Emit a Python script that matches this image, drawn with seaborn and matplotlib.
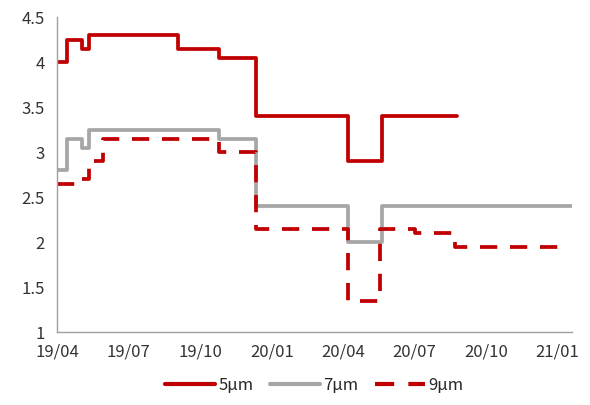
import pandas as pd
import matplotlib.pyplot as plt
import matplotlib.dates as mdates
import seaborn as sns

# step change dates and levels (value holds until the next date)
dates_5 = ["2019-04-01", "2019-04-13", "2019-05-03", "2019-05-12", "2019-09-03",
           "2019-10-25", "2019-12-12", "2020-04-07", "2020-05-21", "2020-08-25"]
vals_5 = [4.0, 4.25, 4.15, 4.3, 4.15, 4.05, 3.4, 2.9, 3.4, 3.4]

dates_7 = ["2019-04-01", "2019-04-13", "2019-05-03", "2019-05-12", "2019-10-25",
           "2019-12-12", "2020-04-07", "2020-05-21", "2021-01-19"]
vals_7 = [2.8, 3.15, 3.05, 3.25, 3.15, 2.4, 2.0, 2.4, 2.4]

dates_9 = ["2019-04-01", "2019-05-03", "2019-05-12", "2019-05-30", "2019-10-25",
           "2019-12-12", "2020-04-07", "2020-05-19", "2020-07-02", "2020-08-23",
           "2021-01-07"]
vals_9 = [2.65, 2.7, 2.9, 3.15, 3.0, 2.15, 1.35, 2.15, 2.1, 1.95, 1.95]

labels = ["5μm", "7μm", "9μm"]
colors = ["#c00000", "#a6a6a6", "#c00000"]

frames = []
for lab, d, v in zip(labels, [dates_5, dates_7, dates_9], [vals_5, vals_7, vals_9]):
    frames.append(pd.DataFrame({"date": pd.to_datetime(d), "value": v, "series": lab}))
df = pd.concat(frames, ignore_index=True)

sns.set_style("white")
plt.rcParams["font.family"] = ["Noto Sans CJK SC", "DejaVu Sans"]

fig = plt.figure(figsize=(5.9, 4.05), dpi=100)
ax = fig.add_axes([0.097, 0.18, 0.872, 0.778])

sns.lineplot(data=df, x="date", y="value", hue="series", style="series",
             palette=dict(zip(labels, colors)),
             dashes={"5μm": "", "7μm": "", "9μm": (4.6, 3.4)},
             drawstyle="steps-post", linewidth=2.7, ax=ax)

ax.set_xlim(pd.Timestamp("2019-04-01"), pd.Timestamp("2021-01-19"))
ax.set_ylim(1, 4.5)
ax.set_yticks([1, 1.5, 2, 2.5, 3, 3.5, 4, 4.5])
ax.set_yticklabels(["1", "1.5", "2", "2.5", "3", "3.5", "4", "4.5"])
ax.xaxis.set_major_locator(mdates.MonthLocator(bymonth=[1, 4, 7, 10]))
ax.xaxis.set_major_formatter(mdates.DateFormatter("%y/%m"))
ax.set_xlabel("")
ax.set_ylabel("")

for s in ["top", "right"]:
    ax.spines[s].set_visible(False)
for s in ["left", "bottom"]:
    ax.spines[s].set_color("#a0a0a0")
    ax.spines[s].set_linewidth(1)
ax.tick_params(axis="both", direction="out", length=4, width=1, color="#a0a0a0",
               labelsize=12, labelcolor="#333333")
ax.tick_params(axis="x", pad=4)
ax.tick_params(axis="y", pad=5)

leg = ax.legend(loc="upper center", bbox_to_anchor=(0.5, -0.095), ncol=3,
                frameon=False, fontsize=12, handlelength=3.0, columnspacing=1.0,
                handletextpad=0.2)
for line in leg.get_lines():
    line.set_linewidth(3)

fig.savefig("out.png", dpi=100)
